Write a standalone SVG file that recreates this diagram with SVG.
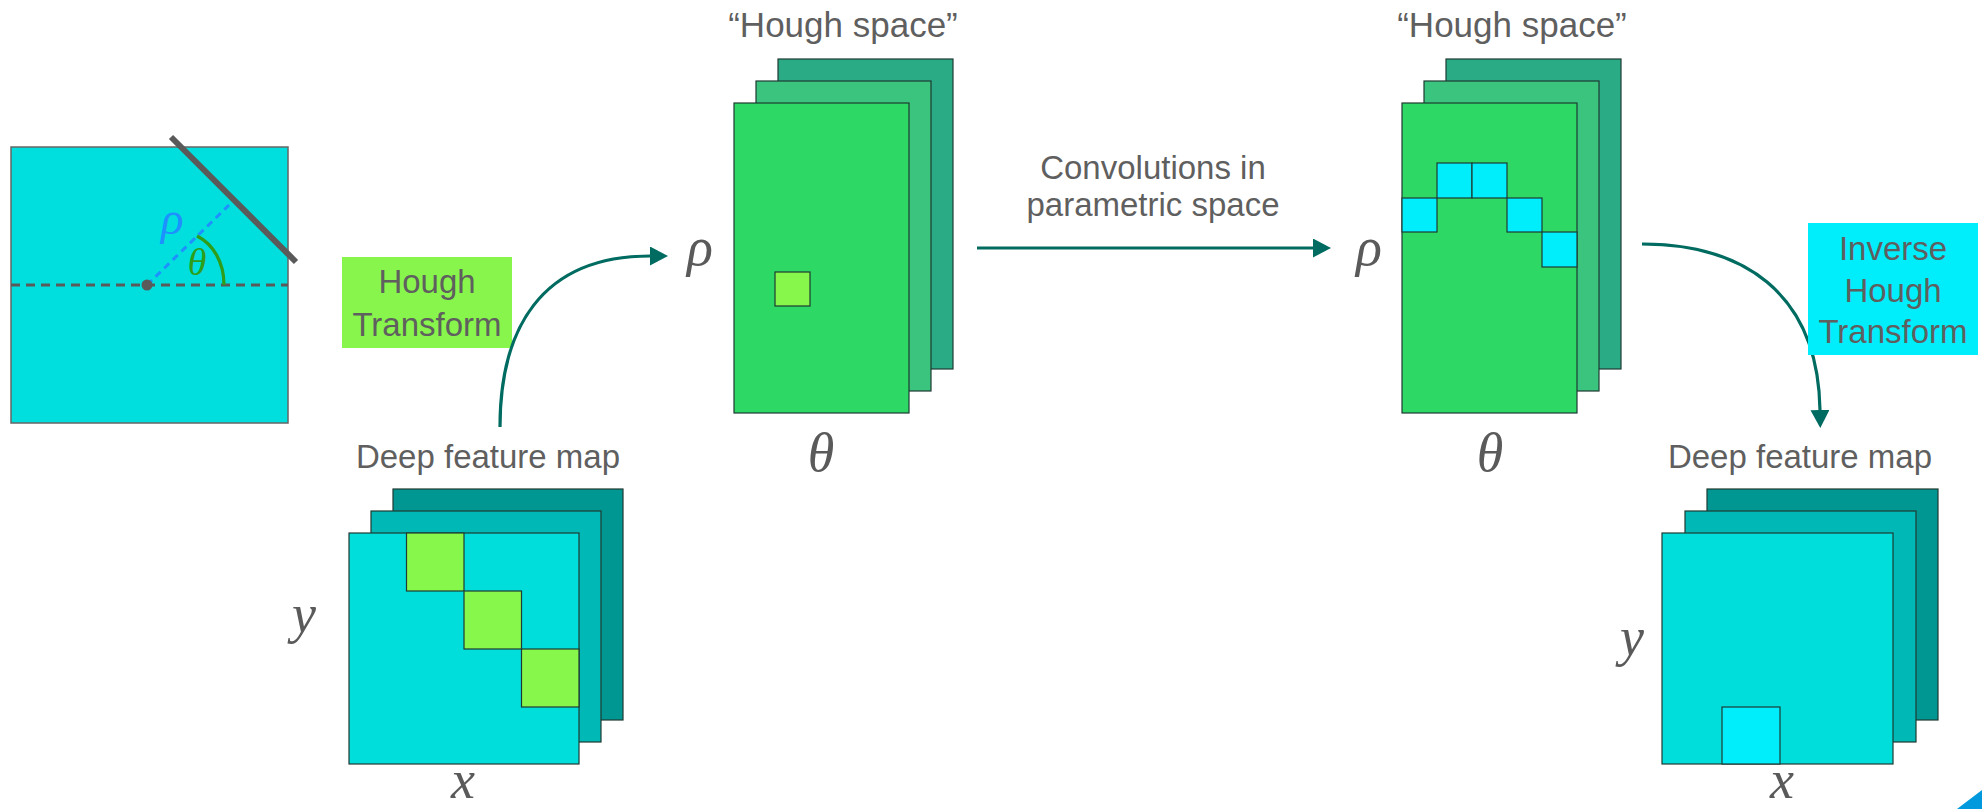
<svg xmlns="http://www.w3.org/2000/svg" width="1982" height="809" viewBox="0 0 1982 809">
<style>
.lbl{font-family:"Liberation Sans",Arial,sans-serif;fill:#5f5f5f;}
.math{font-family:"Liberation Serif","Times New Roman",serif;font-style:italic;fill:#5a5a5a;font-size:54px;}
.edge{stroke:#1e3a32;stroke-width:1.2;}
.conn{fill:none;stroke:#006b60;stroke-width:3.2;}
.fm0{fill:#00dedc;}.fm1{fill:#00b8b5;}.fm2{fill:#009692;}
.hs0{fill:#2ed865;}.hs1{fill:#3ac47d;}.hs2{fill:#2aab86;}
.lime{fill:#88f74c;}.cyan{fill:#00eefc;}
</style>
<defs>
<marker id="ah" markerUnits="userSpaceOnUse" markerWidth="19" markerHeight="20" refX="0" refY="9.5" orient="auto">
<path d="M0,0 L18,9.5 L0,19 z" fill="#006b60"/>
</marker>
</defs>
<rect width="1982" height="809" fill="#ffffff"/>

<g id="input-image">
<rect x="11" y="147" width="277" height="276" fill="#00dfdd" stroke="#666" stroke-width="1.5"/>
<line x1="11" y1="285" x2="288" y2="285" stroke="#5a5a5a" stroke-width="3" stroke-dasharray="9,6"/>
<line x1="147" y1="285" x2="229" y2="205" stroke="#1e90ff" stroke-width="3" stroke-dasharray="7,5"/>
<path d="M197,236 C213,244 224,262 224,285" fill="none" stroke="#2e9e1a" stroke-width="3.2"/>
<circle cx="147" cy="285" r="5.5" fill="#5a5a5a"/>
<line x1="171" y1="137" x2="296" y2="262" stroke="#5a5a5a" stroke-width="6"/>
<text x="161" y="234" style="font-family:'Liberation Serif',serif;font-style:italic;font-size:47px;fill:#1e90ff">ρ</text>
<text x="197" y="275" text-anchor="middle" style="font-family:'Liberation Serif',serif;font-style:italic;font-size:38px;fill:#2e9e1a">θ</text>
</g>

<g id="feature-map-left">
<text class="lbl" x="488" y="468" text-anchor="middle" font-size="33">Deep feature map</text>
<rect class="fm2 edge" x="393" y="489" width="230" height="231"/>
<rect class="fm1 edge" x="371" y="511" width="230" height="231"/>
<rect class="fm0 edge" x="349" y="533" width="230" height="231"/>
<rect class="lime edge" x="406.5" y="533" width="57.5" height="58"/>
<rect class="lime edge" x="464" y="591" width="57.5" height="58"/>
<rect class="lime edge" x="521.5" y="649" width="57.5" height="58"/>
<text class="math" x="292" y="632">y</text>
<text class="math" x="463" y="798" text-anchor="middle">x</text>
</g>

<g id="hough-transform-label">
<rect x="342" y="257" width="170" height="91" fill="#88f54c"/>
<text class="lbl" x="427" y="293" text-anchor="middle" font-size="33">Hough</text>
<text class="lbl" x="427" y="336" text-anchor="middle" font-size="33">Transform</text>
</g>

<g id="hough-space-1">
<text class="lbl" x="843" y="37" text-anchor="middle" font-size="35">“Hough space”</text>
<rect class="hs2 edge" x="778" y="59" width="175" height="310"/>
<rect class="hs1 edge" x="756" y="81" width="175" height="310"/>
<rect class="hs0 edge" x="734" y="103" width="175" height="310"/>
<rect class="lime edge" x="775" y="272" width="35" height="34"/>
<text class="math" x="687" y="265">ρ</text>
<text class="math" x="821" y="471" text-anchor="middle">θ</text>
</g>

<g id="convolutions-label">
<text class="lbl" x="1153" y="179" text-anchor="middle" font-size="33">Convolutions in</text>
<text class="lbl" x="1153" y="216" text-anchor="middle" font-size="33">parametric space</text>
</g>

<g id="hough-space-2">
<text class="lbl" x="1512" y="37" text-anchor="middle" font-size="35">“Hough space”</text>
<rect class="hs2 edge" x="1446" y="59" width="175" height="310"/>
<rect class="hs1 edge" x="1424" y="81" width="175" height="310"/>
<rect class="hs0 edge" x="1402" y="103" width="175" height="310"/>
<rect class="cyan edge" x="1402" y="198" width="35" height="34"/>
<rect class="cyan edge" x="1437" y="163" width="35" height="35"/>
<rect class="cyan edge" x="1472" y="163" width="35" height="35"/>
<rect class="cyan edge" x="1507" y="198" width="35" height="34"/>
<rect class="cyan edge" x="1542" y="232" width="35" height="35"/>
<text class="math" x="1356" y="265">ρ</text>
<text class="math" x="1490" y="471" text-anchor="middle">θ</text>
</g>

<g id="connectors">
<path class="conn" d="M500,427 C500,330 540,256 650,256" marker-end="url(#ah)"/>
<path class="conn" d="M977,248 L1313,248" marker-end="url(#ah)"/>
<path class="conn" d="M1642,244 C1740,244 1818,290 1820,410" marker-end="url(#ah)"/>
</g>

<g id="inverse-hough-label">
<rect x="1808" y="223" width="170" height="132" fill="#00eefc"/>
<text class="lbl" x="1893" y="260" text-anchor="middle" font-size="33">Inverse</text>
<text class="lbl" x="1893" y="302" text-anchor="middle" font-size="33">Hough</text>
<text class="lbl" x="1893" y="343" text-anchor="middle" font-size="33">Transform</text>
</g>

<g id="feature-map-right">
<text class="lbl" x="1800" y="468" text-anchor="middle" font-size="33">Deep feature map</text>
<rect class="fm2 edge" x="1707" y="489" width="231" height="231"/>
<rect class="fm1 edge" x="1685" y="511" width="231" height="231"/>
<rect class="fm0 edge" x="1662" y="533" width="231" height="231"/>
<rect class="cyan edge" x="1722" y="707" width="58" height="57"/>
<text class="math" x="1620" y="655">y</text>
<text class="math" x="1782" y="798" text-anchor="middle">x</text>
</g>

<path d="M1957,809 L1982,790 L1982,809 z" fill="#0099dd"/>
</svg>
